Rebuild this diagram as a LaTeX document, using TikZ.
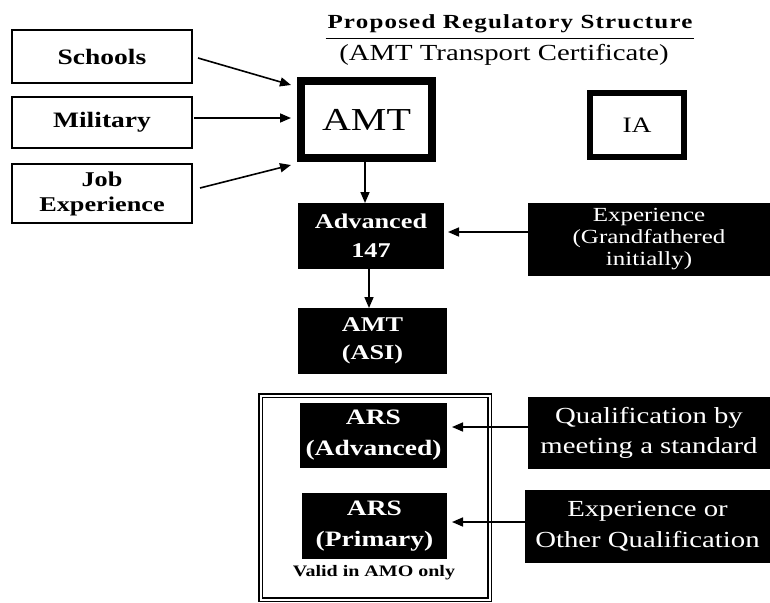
\documentclass[tikz,border=0pt]{standalone}
\usepackage{fontspec}
\setmainfont{Liberation Serif}[FakeStretch=1.25]
\newfontfamily\titlefont{Liberation Serif}[FakeStretch=1.25,LetterSpace=6]
\usetikzlibrary{arrows.meta}
\begin{document}
\begin{tikzpicture}[x=1pt,y=-1pt,
  every node/.style={outer sep=0pt,inner sep=0pt,align=center},
  srcbox/.style={draw,line width=1.5pt,font=\fontsize{22}{25}\selectfont\bfseries},
  blkbox/.style={fill=black,text=white},
  arr/.style={line width=1.6pt,-{Triangle[length=11pt,width=9pt]}}]
\useasboundingbox (0,0) rectangle (770,602);

% title
\node[anchor=base,inner xsep=2pt,font=\titlefont\fontsize{20}{24}\selectfont\bfseries] (title) at (510,29) {Proposed Regulatory Structure};
\draw[line width=1pt] ([yshift=-10pt]title.base west) -- ([yshift=-10pt]title.base east);
\node[anchor=base,font=\fontsize{23}{26}\selectfont] (subtitle) at (504,60) {(AMT Transport Certificate)};

% source boxes
\node[srcbox,minimum width=180,minimum height=53] (schools) at (102,56.5) {Schools};
\node[srcbox,minimum width=180,minimum height=51] (military) at (102,122.5) {Military};
\node[srcbox,minimum width=180,minimum height=59,font=\fontsize{21}{25}\selectfont\bfseries] (job) at (102,193.5) {Job\\Experience};

% AMT and IA
\node[draw,line width=8pt,minimum width=131,minimum height=77,font=\fontsize{32}{36}\selectfont] (amt) at (366.5,119.5) {AMT};
\node[draw,line width=6pt,minimum width=94,minimum height=64,font=\fontsize{22}{26}\selectfont] (ia) at (637,125) {IA};

% black boxes
\node[blkbox,minimum width=146,minimum height=66,font=\fontsize{21}{29}\selectfont\bfseries] (adv) at (371,236) {Advanced\\147};
\node[blkbox,minimum width=242,minimum height=73,font=\fontsize{20}{22}\selectfont] (exp) at (649,239.5) {Experience\\(Grandfathered\\initially)};
\node[blkbox,minimum width=149,minimum height=66,font=\fontsize{21}{28}\selectfont\bfseries] (asi) at (372.5,341) {AMT\\(ASI)};

% ARS frame
\draw[line width=1.5pt,double=white,double distance=2pt] (260.5,395.5) rectangle (489.5,599.5);
\node[blkbox,minimum width=147,minimum height=65,font=\fontsize{22}{31}\selectfont\bfseries] (arsa) at (373.5,435.5) {ARS\\(Advanced)};
\node[blkbox,minimum width=145,minimum height=66,font=\fontsize{22}{31}\selectfont\bfseries] (arsp) at (374.5,526) {ARS\\(Primary)};
\node[font=\fontsize{16}{18}\selectfont\bfseries] (valid) at (374,573) {Valid in AMO only};

\node[blkbox,minimum width=242,minimum height=72,font=\fontsize{23}{30}\selectfont] (qual) at (649,433) {Qualification by\\meeting a standard};
\node[blkbox,minimum width=245,minimum height=73,font=\fontsize{23}{31}\selectfont] (eo) at (647.5,526.5) {Experience or\\Other Qualification};

% arrows
\draw[arr] ([xshift=6pt,yshift=-1.5pt]schools.east) -- ([xshift=-10pt,yshift=34.5pt]amt.west);
\draw[arr] ([xshift=2pt,yshift=4.5pt]military.east) -- ([xshift=-10pt,yshift=1.5pt]amt.west);
\draw[arr] ([xshift=8pt,yshift=5.5pt]job.east) -- ([xshift=-10pt,yshift=-45.5pt]amt.west);
\draw[arr] ([xshift=-1.5pt]amt.south) -- ([xshift=-1.5pt]amt.south |- adv.north);
\draw[arr] ([xshift=-2pt]adv.south) -- ([xshift=-2pt]adv.south |- asi.north);
\draw[arr] ([yshift=7.5pt]exp.west) -- ([xshift=4pt,yshift=4pt]adv.east);
\draw[arr] ([yshift=6pt]qual.west) -- ([xshift=5pt,yshift=8.5pt]arsa.east);
\draw[arr] ([yshift=4.5pt]eo.west) -- ([xshift=5pt,yshift=4pt]arsp.east);
\end{tikzpicture}
\end{document}
